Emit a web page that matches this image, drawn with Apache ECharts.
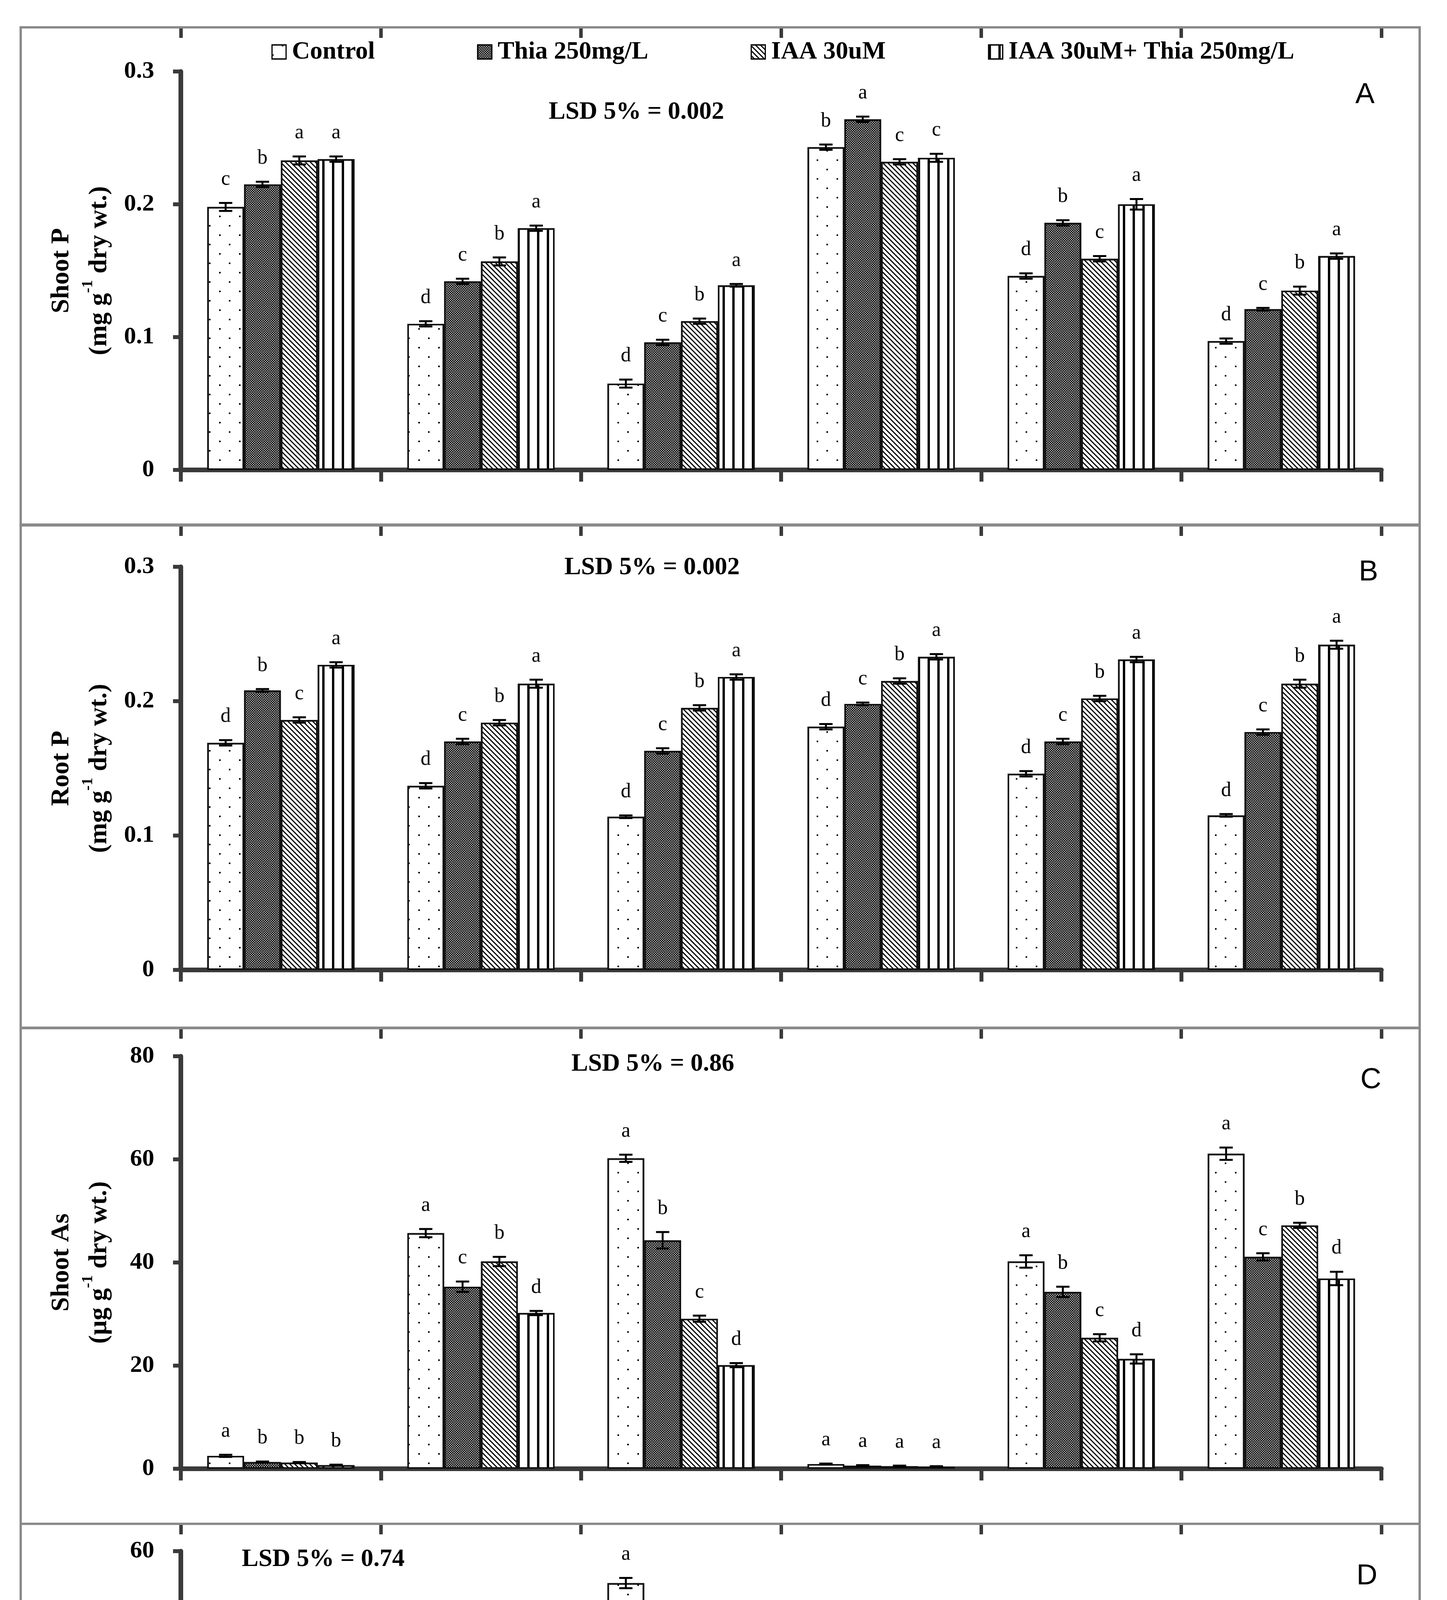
<!DOCTYPE html>
<html><head><meta charset="utf-8">
<script src="https://cdn.jsdelivr.net/npm/echarts@6/dist/echarts.min.js"></script>
<style>html,body{margin:0;padding:0;background:#fff;overflow:hidden}#c{width:3705px;height:5235px}</style>
</head><body><div id="c"></div>
<script>
// ---------- DATA ----------
const categories = ['As 0mg/kg','As 50mg/kg','As 100mg/kg','As 0mg/kg','As 50mg/kg','As 100mg/kg'];
const cultivars = ['Akbar','Pearl'];
const seriesNames = ['Control','Thia 250mg/L','IAA 30uM','IAA 30uM+ Thia 250mg/L'];

// Panel A: Shoot P (mg g-1 dry wt.)
const shootP_control = [0.198, 0.110, 0.065, 0.243, 0.146, 0.097];
const shootP_thia    = [0.215, 0.142, 0.096, 0.264, 0.186, 0.121];
const shootP_iaa     = [0.233, 0.157, 0.112, 0.232, 0.159, 0.135];
const shootP_combo   = [0.234, 0.182, 0.139, 0.235, 0.200, 0.161];
const shootP_errControl = [0.003, 0.002, 0.003, 0.002, 0.002, 0.002];
const shootP_errThia    = [0.002, 0.002, 0.002, 0.002, 0.002, 0.001];
const shootP_errIaa     = [0.003, 0.003, 0.002, 0.002, 0.002, 0.003];
const shootP_errCombo   = [0.002, 0.002, 0.001, 0.003, 0.004, 0.002];
const shootP_letControl = ['c','d','d','b','d','d'];
const shootP_letThia    = ['b','c','c','a','b','c'];
const shootP_letIaa     = ['a','b','b','c','c','b'];
const shootP_letCombo   = ['a','a','a','c','a','a'];

// Panel B: Root P (mg g-1 dry wt.)
const rootP_control = [0.169, 0.137, 0.114, 0.181, 0.146, 0.115];
const rootP_thia    = [0.208, 0.170, 0.163, 0.198, 0.170, 0.177];
const rootP_iaa     = [0.186, 0.184, 0.195, 0.215, 0.202, 0.213];
const rootP_combo   = [0.227, 0.213, 0.218, 0.233, 0.231, 0.242];
const rootP_errControl = [0.002, 0.002, 0.001, 0.002, 0.002, 0.001];
const rootP_errThia    = [0.001, 0.002, 0.002, 0.001, 0.002, 0.002];
const rootP_errIaa     = [0.002, 0.002, 0.002, 0.002, 0.002, 0.003];
const rootP_errCombo   = [0.002, 0.003, 0.002, 0.002, 0.002, 0.003];
const rootP_letControl = ['d','d','d','d','d','d'];
const rootP_letThia    = ['b','c','c','c','c','c'];
const rootP_letIaa     = ['c','b','b','b','b','b'];
const rootP_letCombo   = ['a','a','a','a','a','a'];

// Panel C: Shoot As (µg g-1 dry wt.)
const shootAs_control = [2.5, 45.7, 60.2, 0.9, 40.2, 61.1];
const shootAs_thia    = [1.3, 35.3, 44.3, 0.6, 34.3, 41.1];
const shootAs_iaa     = [1.2, 40.2, 29.1, 0.5, 25.4, 47.2];
const shootAs_combo   = [0.7, 30.2, 20.1, 0.4, 21.3, 36.9];
const shootAs_errControl = [0.2, 0.8, 0.7, 0.1, 1.2, 1.2];
const shootAs_errThia    = [0.1, 1.0, 1.6, 0.1, 1.0, 0.7];
const shootAs_errIaa     = [0.1, 0.9, 0.6, 0.1, 0.7, 0.5];
const shootAs_errCombo   = [0.1, 0.4, 0.4, 0.1, 0.9, 1.3];
const shootAs_letControl = ['a','a','a','a','a','a'];
const shootAs_letThia    = ['b','c','b','a','b','c'];
const shootAs_letIaa     = ['b','b','c','a','c','b'];
const shootAs_letCombo   = ['b','d','d','a','d','d'];

// Panel D: Root As (µg g-1 dry wt.)
const rootAs_control = [0, 33.0, 55.0, 2.5, 35.1, 45.8];
const rootAs_thia    = [0, 29.1, 45.4, 0.9, 26.8, 35.7];
const rootAs_iaa     = [0, 18.9, 35.2, 0.7, 23.0, 30.8];
const rootAs_combo   = [0, 20.2, 22.9, 0.6, 19.0, 24.4];
const rootAs_errControl = [0, 1.5, 0.8, 0.2, 0.5, 0.4];
const rootAs_errThia    = [0, 0.9, 0.6, 0.1, 0.9, 0.8];
const rootAs_errIaa     = [0, 0.9, 0.6, 0.1, 0.3, 0.5];
const rootAs_errCombo   = [0, 0.6, 0.5, 0.1, 0.4, 0.3];
const rootAs_letControl = ['a','a','a','a','a','a'];
const rootAs_letThia    = ['a','b','b','b','b','b'];
const rootAs_letIaa     = ['a','d','c','b','c','c'];
const rootAs_letCombo   = ['a','c','d','b','d','d'];

const yTicksA = ['0','0.1','0.2','0.3'];
const yTicksB = ['0','0.1','0.2','0.3'];
const yTicksC = ['0','20','40','60','80'];
const yTicksD = ['0','20','40','60'];

// ---------- STYLE / LAYOUT ----------
const SERIF = 'Liberation Serif';
const AX = '#3a3a3a';
const CAT_GAP = 0.264;

const decals = [
  { symbol:'rect', color:'#000', symbolSize:1, dashArrayX:[[4,47],[0,25,4,22]], dashArrayY:[4,20] },
  { symbol:'rect', color:'#000', symbolSize:1, dashArrayX:[[3,3],[0,3,3,0]], dashArrayY:[3,0] },
  { symbol:'rect', color:'#000', symbolSize:1, dashArrayX:[1,0], dashArrayY:[3,6], rotation: Math.PI/4 },
  { symbol:'rect', color:'#000', symbolSize:1, dashArrayX:[6,19], dashArrayY:[1,0] }
];
const fills = ['#ffffff', '#a8a8a8', '#ffffff', '#ffffff'];

const panels = [
  { vals:[shootP_control, shootP_thia, shootP_iaa, shootP_combo],
    errs:[shootP_errControl, shootP_errThia, shootP_errIaa, shootP_errCombo],
    lets:[shootP_letControl, shootP_letThia, shootP_letIaa, shootP_letCombo],
    ticks:yTicksA, max:0.3, interval:0.1, top:183, height:1020, boxTop:70, boxBottom:1343,
    name:'Shoot P\n(mg g{sup|-1} dry wt.)', lsd:'LSD 5% = 0.002', lsdX:1405, lsdY:287, tag:'A', tagX:3495, tagY:244 },
  { vals:[rootP_control, rootP_thia, rootP_iaa, rootP_combo],
    errs:[rootP_errControl, rootP_errThia, rootP_errIaa, rootP_errCombo],
    lets:[rootP_letControl, rootP_letThia, rootP_letIaa, rootP_letCombo],
    ticks:yTicksB, max:0.3, interval:0.1, top:1451, height:1032, boxTop:1345, boxBottom:2631,
    name:'Root P\n(mg g{sup|-1} dry wt.)', lsd:'LSD 5% = 0.002', lsdX:1445, lsdY:1453, tag:'B', tagX:3504, tagY:1466 },
  { vals:[shootAs_control, shootAs_thia, shootAs_iaa, shootAs_combo],
    errs:[shootAs_errControl, shootAs_errThia, shootAs_errIaa, shootAs_errCombo],
    lets:[shootAs_letControl, shootAs_letThia, shootAs_letIaa, shootAs_letCombo],
    ticks:yTicksC, max:80, interval:20, top:2704, height:1056, boxTop:2632, boxBottom:3901,
    name:'Shoot As\n(µg g{sup|-1} dry wt.)', lsd:'LSD 5% = 0.86', lsdX:1463, lsdY:2724, tag:'C', tagX:3510, tagY:2766 },
  { vals:[rootAs_control, rootAs_thia, rootAs_iaa, rootAs_combo],
    errs:[rootAs_errControl, rootAs_errThia, rootAs_errIaa, rootAs_errCombo],
    lets:[rootAs_letControl, rootAs_letThia, rootAs_letIaa, rootAs_letCombo],
    ticks:yTicksD, max:60, interval:20, top:3971, height:980, boxTop:3901, boxBottom:5220,
    name:'Root As\n(µg g{sup|-1} dry wt.)', lsd:'LSD 5% = 0.74', lsdX:619, lsdY:3992, tag:'D', tagX:3500, tagY:4036 }
];

const GRID_LEFT = 463, GRID_W = 3074;
const grid = [], xAxis = [], yAxis = [], series = [], graphic = [];

panels.forEach((p, pi) => {
  grid.push({ left: GRID_LEFT, top: p.top, width: GRID_W, height: p.height, containLabel:false });
  const isLast = pi === panels.length - 1;
  const mainIdx = xAxis.length;
  xAxis.push({
    type:'category', gridIndex: pi, data: categories, position:'bottom',
    axisLine:{ show:true, lineStyle:{ color:AX, width:12 } },
    axisTick:{ show:true, interval:0, length: isLast ? 100 : 30, lineStyle:{ color:AX, width:10 } },
    axisLabel:{ show:isLast, interval:0, margin:40, fontFamily:SERIF, fontWeight:'bold', fontSize:62, color:'#000' },
    splitLine:{ show:false }
  });
  xAxis.push({
    type:'category', gridIndex: pi, data: categories, position:'top', offset: p.top - (p.boxTop + 27),
    axisLine:{ show:false }, axisTick:{ show:true, interval:0, length:24, lineStyle:{ color:AX, width:9 } },
    axisLabel:{ show:false }, splitLine:{ show:false }
  });
  if (isLast) {
    xAxis.push({
      type:'category', gridIndex: pi, data: cultivars, position:'bottom',
      axisLine:{ show:false }, axisTick:{ show:true, interval:0, length:230, lineStyle:{ color:AX, width:10 } },
      axisLabel:{ show:true, interval:0, margin:184, fontFamily:SERIF, fontWeight:'bold', fontSize:62, color:'#000' },
      splitLine:{ show:false }
    });
  }
  yAxis.push({
    type:'value', gridIndex: pi, min:0, max:p.max, interval:p.interval,
    axisLine:{ show:true, lineStyle:{ color:AX, width:12 } },
    axisTick:{ show:true, length:20, lineStyle:{ color:AX, width:10 } },
    axisLabel:{ margin:68, fontFamily:SERIF, fontWeight:'bold', fontSize:62, color:'#000',
      formatter: (v) => p.ticks[Math.round(v / p.interval)] },
    splitLine:{ show:false },
    name: p.name, nameLocation:'middle', nameRotate:90, nameGap:160,
    nameTextStyle:{ fontFamily:SERIF, fontWeight:'bold', fontSize:66, lineHeight:97, color:'#000',
      rich:{ sup:{ fontFamily:SERIF, fontWeight:'bold', fontSize:40, lineHeight:62, verticalAlign:'top', color:'#000' } } }
  });
  for (let s = 0; s < 4; s++) {
    series.push({
      type:'bar', name: seriesNames[s], xAxisIndex: mainIdx, yAxisIndex: pi, data: p.vals[s],
      barGap:'0%', barCategoryGap: (CAT_GAP*100) + '%', silent:true,
      itemStyle:{ color: fills[s], borderColor:'#111', borderWidth:4, decal: decals[s] }
    });
  }
  const eData = [], eLetters = [];
  for (let s = 0; s < 4; s++) for (let g = 0; g < 6; g++) {
    eData.push([g, s, p.vals[s][g], p.errs[s][g]]);
    eLetters.push(p.lets[s][g]);
  }
  series.push({
    type:'custom', xAxisIndex: mainIdx, yAxisIndex: pi, data: eData, silent:true, z:5,
    encode:{ x:0, y:2 },
    renderItem: (params, api) => {
      const g = api.value(0), s = api.value(1), v = api.value(2), e = api.value(3);
      const band = api.size([1, 0])[0];
      const bw = band * (1 - CAT_GAP) / 4;
      const cx = api.coord([g, 0])[0] + (s - 1.5) * bw;
      const yt = api.coord([g, v + e])[1];
      const yb = api.coord([g, Math.max(0, v - e)])[1];
      const ch = [];
      if (e > 0) {
        const cap = 17, st = { stroke:'#000', lineWidth:5 };
        ch.push({ type:'line', shape:{ x1:cx, y1:yt, x2:cx, y2:yb }, style:st });
        ch.push({ type:'line', shape:{ x1:cx-cap, y1:yt, x2:cx+cap, y2:yt }, style:st });
        ch.push({ type:'line', shape:{ x1:cx-cap, y1:yb, x2:cx+cap, y2:yb }, style:st });
      }
      ch.push({ type:'text', style:{ text: eLetters[params.dataIndex], x:cx, y: yt - 34,
        align:'center', verticalAlign:'bottom', fontFamily:SERIF, fontSize:52, fill:'#000' } });
      return { type:'group', children: ch };
    }
  });
  graphic.push({ type:'rect', silent:true, z:-10,
    shape:{ x:53, y:p.boxTop, width:3582, height:p.boxBottom - p.boxTop },
    style:{ fill:'none', stroke:'#8a8a8a', lineWidth:6 } });
  graphic.push({ type:'text', silent:true, x:p.lsdX, y:p.lsdY,
    style:{ text:p.lsd, fontFamily:SERIF, fontWeight:'bold', fontSize:64, fill:'#000', align:'left', verticalAlign:'middle' } });
  graphic.push({ type:'text', silent:true, x:p.tagX, y:p.tagY,
    style:{ text:p.tag, fontFamily:'Liberation Sans', fontSize:74, fill:'#000', align:'center', verticalAlign:'middle' } });
});

const chart = echarts.init(document.getElementById('c'));
chart.setOption({
  animation:false,
  backgroundColor:'#ffffff',
  legend:{ data: seriesNames, left:690, top:96, itemWidth:36, itemHeight:36, itemGap:262, icon:'rect',
    selectedMode:false,
    itemStyle:{ borderColor:'#000', borderWidth:3 },
    textStyle:{ fontFamily:SERIF, fontWeight:'bold', fontSize:64, color:'#000', padding:[0,0,0,10] } },
  grid, xAxis, yAxis, series, graphic
});
</script></body></html>
